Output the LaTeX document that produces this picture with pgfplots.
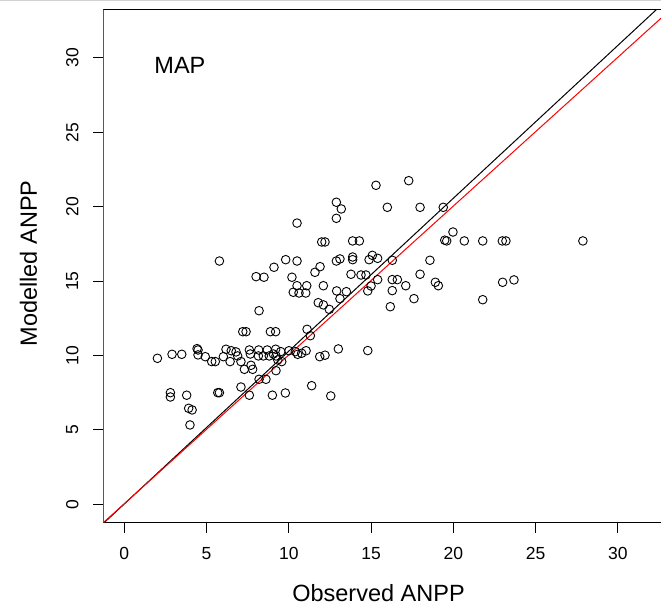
\documentclass[border=0pt]{standalone}
\usepackage{fontspec}
\setmainfont{Liberation Sans}
\usepackage{pgfplots}
\pgfplotsset{compat=1.18}
\begin{document}
\begin{tikzpicture}[x=1pt,y=1pt]
\path[use as bounding box] (-103.3pt,-83.3pt) rectangle (557.7pt,522.7pt);
\draw[gray!35, line width=1pt] (-103.3pt,522.2pt) -- (557.7pt,522.2pt);
\begin{axis}[
  at={(0pt,0pt)}, anchor=south west,
  scale only axis, width=557.7pt, height=513.4pt,
  xmin=-1.28, xmax=32.63, ymin=-1.24, ymax=33.27,
  axis line style={draw=none},
  xtick={0,5,...,30}, ytick={0,5,...,30},
  tick align=outside, xtick pos=left, ytick pos=left,
  major tick length=10pt,
  tick style={black, line width=0.9pt},
  /pgf/number format/assume math mode=true,
  xticklabel style={font=\fontsize{17.5}{20}\selectfont, anchor=center, yshift=-20.6pt},
  yticklabel style={font=\fontsize{17.5}{20}\selectfont, rotate=90, anchor=center, yshift=21pt},
  xlabel={Observed ANPP}, ylabel={Modelled ANPP},
  xlabel style={font=\fontsize{23.5}{28}\selectfont, at={(axis description cs:0.4935,-0.1539)}, anchor=base},
  ylabel style={font=\fontsize{23.5}{28}\selectfont, at={(axis description cs:-0.1189,0.505)}, anchor=base},
  clip=true,
]
\draw[black, line width=1pt] (rel axis cs:0,0) -- (rel axis cs:1,0);
\draw[black, line width=1pt] (rel axis cs:0,1) -- (rel axis cs:1,1);
\draw[black, line width=1pt] (rel axis cs:0,0) -- (rel axis cs:0,1);
\addplot[only marks, mark=o, mark size=4.3pt, mark options={black, line width=0.9pt}] coordinates {
(5.78,16.35) (9.81,16.44) (10.50,16.35) (9.10,15.93) (11.90,15.97) (11.59,15.59)
(8.01,15.30) (8.49,15.26) (10.19,15.26) (10.50,14.69) (11.09,14.69) (12.10,14.69)
(10.27,14.25) (10.62,14.20) (11.03,14.20) (11.79,13.55) (12.10,13.40) (12.46,13.10)
(8.19,13.01) (7.20,11.60) (7.40,11.60) (8.88,11.60) (9.20,11.60) (11.11,11.76)
(11.31,11.33) (2.01,9.81) (2.90,10.08) (3.49,10.08) (4.42,10.46) (4.48,10.37)
(4.48,10.04) (4.92,9.92) (5.31,9.59) (5.53,9.59) (6.02,9.92) (6.18,10.42)
(6.43,9.59) (6.50,10.32) (6.79,10.24) (6.89,9.97) (7.09,9.59) (7.30,9.07)
(7.60,10.37) (7.66,10.10) (7.70,9.34) (7.80,9.07) (8.17,10.37) (8.15,9.97)
(8.45,9.97) (8.69,10.37) (8.81,9.97) (9.06,10.10) (9.20,10.42) (9.22,9.97)
(9.33,9.70) (9.51,10.26) (9.57,9.59) (10.01,10.32) (9.22,8.98) (8.19,8.40)
(8.61,8.40) (10.40,10.26) (10.54,10.08) (10.78,10.15) (11.05,10.32) (11.88,9.92)
(12.20,10.02) (11.39,7.97) (7.09,7.88) (7.60,7.33) (9.00,7.33) (9.79,7.48)
(2.80,7.50) (2.80,7.21) (3.79,7.33) (5.68,7.50) (5.78,7.50) (3.91,6.45)
(4.12,6.34) (3.99,5.33) (12.55,7.28) (10.50,18.90)
(15.30,21.44) (17.29,21.75) (12.89,20.30) (13.19,19.85) (12.89,19.22) (15.99,19.96)
(17.98,19.96) (19.39,19.96) (19.98,18.30) (19.48,17.75) (19.60,17.70) (20.67,17.70)
(21.79,17.70) (22.98,17.70) (23.20,17.70) (27.88,17.70) (12.00,17.63) (12.20,17.63)
(13.88,17.70) (14.29,17.70) (12.89,16.35) (13.11,16.49) (13.88,16.62) (13.88,16.44)
(14.88,16.44) (15.08,16.73) (15.40,16.53) (16.29,16.40) (18.58,16.40) (13.78,15.46)
(14.39,15.41) (14.69,15.41) (15.40,15.10) (16.29,15.10) (16.60,15.10) (17.98,15.46)
(17.11,14.69) (18.91,14.92) (19.09,14.69) (23.00,14.92) (23.69,15.08) (12.91,14.34)
(13.50,14.29) (14.80,14.34) (15.00,14.67) (16.29,14.36) (13.11,13.82) (17.61,13.82)
(16.17,13.28) (21.79,13.75) (13.01,10.44) (14.80,10.33)
};
\addplot[black, line width=1pt] coordinates {(-1.28,-1.29) (33.5,34.43)};
\addplot[red, line width=1pt] coordinates {(-1.28,-1.24) (33.5,33.54)};
\node[font=\fontsize{23.5}{28}\selectfont, anchor=base] at (axis cs:3.38,28.97) {MAP};
\end{axis}
\end{tikzpicture}
\end{document}
